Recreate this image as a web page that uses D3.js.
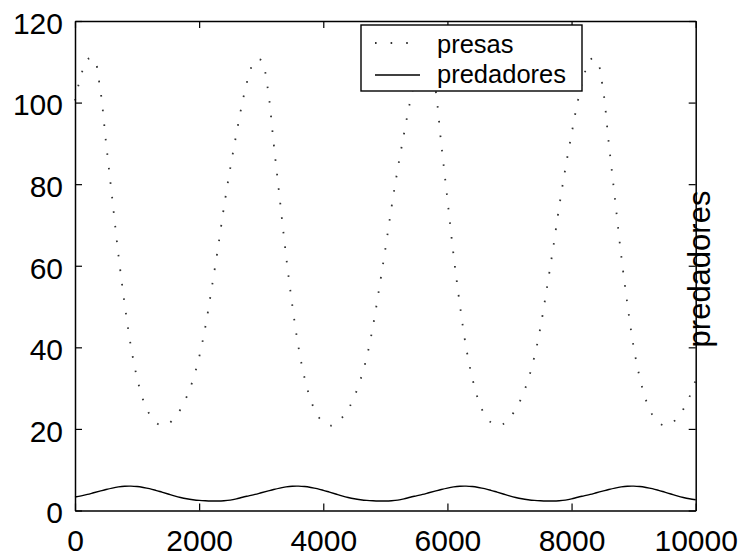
<!DOCTYPE html>
<html>
<head>
<meta charset="utf-8">
<script src="https://cdn.jsdelivr.net/npm/d3@7"></script>
<style>
  body { margin: 0; background: #fff; }
  svg { display: block; }
  text { font-family: "Liberation Sans", Arial, Helvetica, sans-serif; fill: #000; }
</style>
</head>
<body>
<svg id="chart" width="744" height="555"></svg>
<script>
// time samples (every 100 units, 0..10000)
var times = d3.range(0, 10001, 100);

// presas (prey)
var presas = [
  100.5, 106.8, 110.6, 110.8, 104.0, 90.2, 76.5, 62.6, 50.6, 40.3,
  32.5, 27.0, 23.6, 21.6, 20.8, 21.2, 22.7, 24.8, 27.9, 32.0,
  37.6, 45.0, 54.3, 64.0, 74.4, 83.8, 92.3, 100.3, 106.6, 110.4,
  110.4, 104.0, 90.1, 76.3, 62.5, 50.4, 40.1, 32.4, 27.0, 23.5,
  21.6, 20.8, 21.2, 22.7, 24.8, 27.9, 32.1, 37.6, 45.1, 54.4,
  64.1, 74.4, 83.8, 92.3, 100.3, 106.6, 110.5, 110.5, 104.0, 90.0,
  76.3, 62.5, 50.5, 40.1, 32.5, 27.0, 23.5, 21.6, 20.8, 21.2,
  22.7, 24.8, 27.9, 32.0, 37.6, 45.0, 54.3, 64.0, 74.4, 83.8,
  92.3, 100.3, 106.6, 110.6, 110.5, 104.0, 90.0, 76.3, 62.5, 50.5,
  40.1, 32.5, 27.0, 23.5, 21.6, 20.8, 21.2, 22.7, 24.8, 27.9,
  32.0
];

// predadores (predators)
var predadores = [
  3.3, 3.6, 3.95, 4.35, 4.75, 5.15, 5.5, 5.78, 5.95, 5.98,
  5.88, 5.65, 5.35, 4.95, 4.5, 4.05, 3.6, 3.2, 2.88, 2.65,
  2.48, 2.38, 2.33, 2.33, 2.4, 2.55, 2.85,
  3.25, 3.6, 3.95, 4.35, 4.75, 5.15, 5.5, 5.78, 5.95, 5.98,
  5.88, 5.65, 5.35, 4.95, 4.5, 4.05, 3.6, 3.2, 2.88, 2.65,
  2.48, 2.38, 2.33, 2.33, 2.4, 2.55, 2.85,
  3.25, 3.6, 3.95, 4.35, 4.75, 5.15, 5.5, 5.78, 5.95, 5.98,
  5.88, 5.65, 5.35, 4.95, 4.5, 4.05, 3.6, 3.2, 2.88, 2.65,
  2.48, 2.38, 2.33, 2.33, 2.4, 2.55, 2.85,
  3.25, 3.6, 3.95, 4.35, 4.75, 5.15, 5.5, 5.78, 5.95, 5.98,
  5.88, 5.65, 5.35, 4.95, 4.5, 4.05, 3.6, 3.2, 2.88, 2.65
];

var xTicks = [0, 2000, 4000, 6000, 8000, 10000];
var yTicks = [0, 20, 40, 60, 80, 100, 120];
var legendLabels = ["presas", "predadores"];
var rightLabel = "predadores";

var svg = d3.select("#chart");
var plotLeft = 75, plotRight = 695.7, plotTop = 21, plotBottom = 510.5;

var x = d3.scaleLinear().domain([0, 10000]).range([plotLeft, plotRight]);
var y = d3.scaleLinear().domain([0, 120]).range([plotBottom, plotTop]);

function linePath(values) {
  return d3.line()
    .x(function(d, i) { return x(times[i]); })
    .y(function(d) { return y(d); })
    .curve(d3.curveCatmullRom)(values);
}

// curves
svg.append("path")
  .attr("d", linePath(presas))
  .attr("fill", "none")
  .attr("stroke", "#333")
  .attr("stroke-width", 1.8)
  .attr("stroke-dasharray", "1.6,13");

svg.append("path")
  .attr("d", linePath(predadores))
  .attr("fill", "none")
  .attr("stroke", "#000")
  .attr("stroke-width", 1.4);

// axes, ticks point inward
function styleAxis(g) {
  g.select(".domain").attr("stroke", "#000").attr("stroke-width", 1.5);
  g.selectAll(".tick line").attr("stroke", "#000").attr("stroke-width", 1.2);
  g.selectAll(".tick text").style("font-size", "30px").attr("fill", "#000");
}

svg.append("g")
  .attr("transform", "translate(0," + plotBottom + ")")
  .call(d3.axisBottom(x).tickValues(xTicks).tickFormat(d3.format("d"))
    .tickSizeInner(-7).tickSizeOuter(0).tickPadding(19))
  .call(styleAxis);

svg.append("g")
  .attr("transform", "translate(0," + plotTop + ")")
  .call(d3.axisTop(x).tickValues(xTicks).tickSizeInner(-7).tickSizeOuter(0).tickFormat(""))
  .call(styleAxis);

svg.append("g")
  .attr("transform", "translate(" + plotLeft + ",0)")
  .call(d3.axisLeft(y).tickValues(yTicks).tickFormat(d3.format("d"))
    .tickSizeInner(-7).tickSizeOuter(0).tickPadding(12))
  .call(styleAxis)
  .selectAll(".tick text").attr("dy", "0.41em");

svg.append("g")
  .attr("transform", "translate(" + plotRight + ",0)")
  .call(d3.axisRight(y).tickValues(yTicks).tickSizeInner(-7).tickSizeOuter(0).tickFormat(""))
  .call(styleAxis);

// right-side label
svg.append("text")
  .attr("transform", "translate(710,269) rotate(-90)")
  .attr("text-anchor", "middle")
  .style("font-size", "31px")
  .text(rightLabel);

// legend
var legend = svg.append("g");
legend.append("rect")
  .attr("x", 361).attr("y", 25).attr("width", 221).attr("height", 66)
  .attr("fill", "#fff").attr("stroke", "#000").attr("stroke-width", 1.4);

legend.append("line")
  .attr("x1", 375).attr("x2", 410).attr("y1", 43).attr("y2", 43)
  .attr("stroke", "#333").attr("stroke-width", 1.8)
  .attr("stroke-dasharray", "1.6,14");
legend.append("line")
  .attr("x1", 375).attr("x2", 420).attr("y1", 75).attr("y2", 75)
  .attr("stroke", "#000").attr("stroke-width", 1.4);

legend.selectAll("text.lab")
  .data(legendLabels)
  .enter().append("text")
  .attr("class", "lab")
  .attr("x", 437)
  .attr("y", function(d, i) { return i === 0 ? 53.3 : 82.7; })
  .style("font-size", "25.5px")
  .text(function(d) { return d; });
</script>
</body>
</html>
